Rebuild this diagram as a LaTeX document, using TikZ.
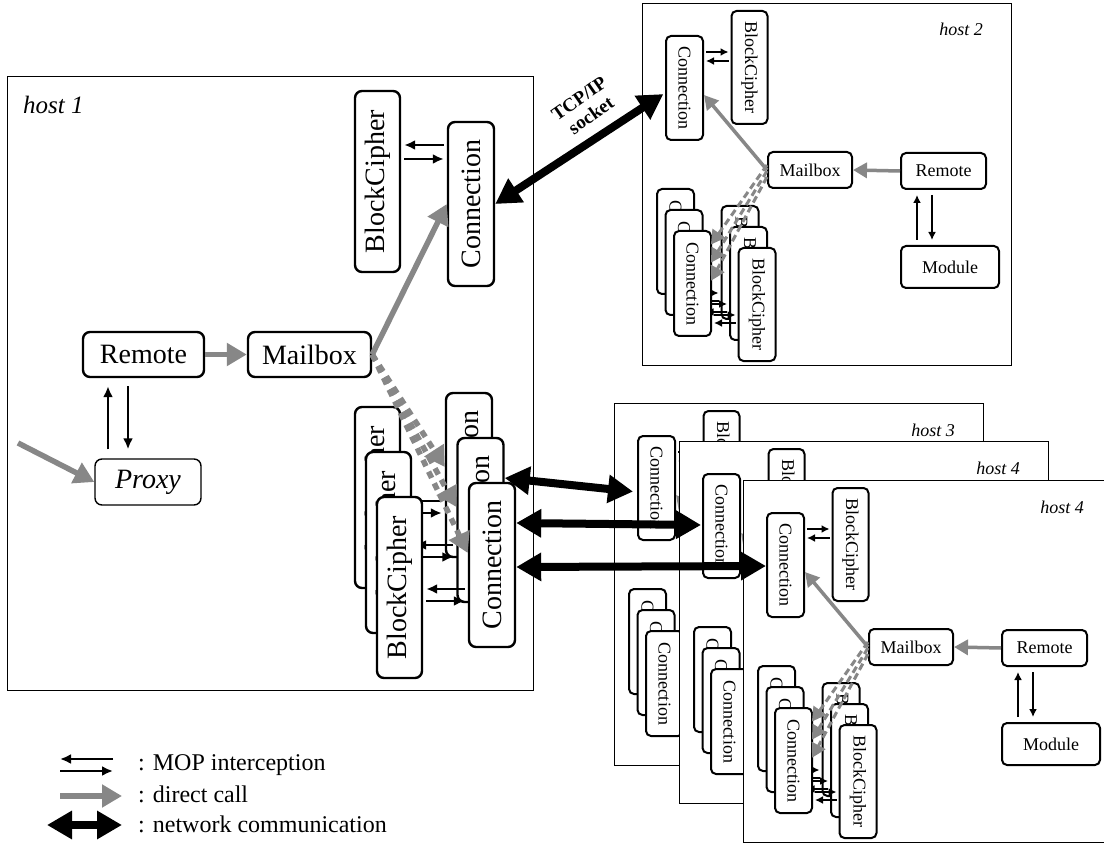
\documentclass[tikz,border=0pt]{standalone}
\usepackage{fontspec}
\setmainfont{Liberation Serif}
\usetikzlibrary{arrows.meta}
\definecolor{callgray}{gray}{0.53}

\tikzset{
  hostbox/.style={draw=black, line width=1.2pt, fill=white, inner sep=0pt},
  hostlabel/.style={font=\itshape\fontsize{18}{20}\selectfont, inner sep=0pt},
  bigbox/.style={draw, line width=2.4pt, rounded corners=7pt, fill=white, inner sep=0pt,
    font=\fontsize{28}{30}\selectfont},
  smallbox/.style={draw, line width=2pt, rounded corners=5pt, fill=white, inner sep=0pt,
    font=\fontsize{18}{20}\selectfont},
  mop/.style={line width=2.2pt, -{Latex[length=11pt,width=10pt]}, shorten <=3pt, shorten >=3pt},
  smallmop/.style={line width=1.8pt, -{Latex[length=8pt,width=8pt]}, shorten <=2pt, shorten >=2pt},
  call/.style={color=callgray, line width=5.5pt, -{Triangle[length=20pt,width=22pt]}},
  smallcall/.style={color=callgray, line width=3.5pt, -{Triangle[length=14pt,width=15pt]}},
  dashcall/.style={call, dash pattern=on 7pt off 6pt},
  smalldash/.style={smallcall, line width=3pt, dash pattern=on 7pt off 4pt},
  net/.style={line width=8pt, {Triangle[length=25pt,width=27pt]}-{Triangle[length=25pt,width=27pt]}},
  legendtext/.style={font=\fontsize{24}{26}\selectfont, inner sep=0pt},
}

% one remote host: #1 name prefix, #2/#3 top-left corner, #4 label
\newcommand\drawhost[4]{%
\begin{scope}[shift={(#2,#3)}]
  \node[hostbox, minimum width=369pt, minimum height=362pt, anchor=north west] (#1) at (0,0) {};
  \node[hostlabel, anchor=base east] (#1-lbl) at (341,33) {#4};
  \node[smallbox, minimum width=37pt, minimum height=104pt] (#1-conn) at (42.5,85) {\rotatebox{-90}{Connection}};
  \node[smallbox, minimum width=36pt, minimum height=113pt] (#1-bc) at (107.5,64.5) {\rotatebox{-90}{BlockCipher}};
  \draw[smallmop] (#1-conn.east |- 0,49) -- (#1-bc.west |- 0,49);
  \draw[smallmop] (#1-bc.west |- 0,58) -- (#1-conn.east |- 0,58);
  \node[smallbox, minimum width=84pt, minimum height=36pt] (#1-mail) at (168,167) {Mailbox};
  \node[smallbox, minimum width=85pt, minimum height=36pt] (#1-rem) at (301.5,168) {Remote};
  \node[smallbox, minimum width=98pt, minimum height=42pt] (#1-mod) at (308,264) {Module};
  \draw[smallmop, shorten <=5pt, shorten >=5pt] (#1-mod.north -| 275,0) -- (#1-rem.south -| 275,0);
  \draw[smallmop, shorten <=5pt, shorten >=5pt] (#1-rem.south -| 290,0) -- (#1-mod.north -| 290,0);
  \foreach \k [evaluate=\k as \ya using 290+11*\k, evaluate=\k as \yb using 298+11*\k] in {0,1,2} {
    \node[smallbox, minimum width=37pt, minimum height=105pt] (#1-c\k) at ({33.5+8.5*\k},{238.5+21*\k}) {\rotatebox{-90}{Connection}};
    \node[smallbox, minimum width=37pt, minimum height=113pt] (#1-b\k) at ({98+8.5*\k},{259.5+21*\k}) {\rotatebox{-90}{BlockCipher}};
    \draw[smallmop] (#1-c\k.east |- 0,\ya) -- (#1-b\k.west |- 0,\ya);
    \draw[smallmop] (#1-b\k.west |- 0,\yb) -- (#1-c\k.east |- 0,\yb);
  }
  \draw[smallcall] (#1-rem.west) -- (#1-mail.east);
  \draw[smallcall] (#1-mail.west) -- (#1-conn.east |- 0,92);
  % the calls into the stacked connections end on the front face of the stack
  \foreach \s/\yy in {162/240,168/258,174/276}
    \draw[smalldash, shorten >=-2pt] (#1-mail.west |- 0,\s) -- (#1-c2.east |- 0,\yy);
\end{scope}}

\begin{document}
\begin{tikzpicture}[x=1pt, y=-1pt]
\useasboundingbox (0,0) rectangle (1104,845);
\clip (0,0) rectangle (1104,845);

% ---------------- host 1 ----------------
\node[hostbox, minimum width=526pt, minimum height=614pt, anchor=north west] (h1) at (7,76) {};
\node[font=\itshape\fontsize{25}{27}\selectfont, inner sep=0pt, anchor=base west] (h1-lbl) at (23,114) {host 1};

\node[bigbox, minimum width=45pt, minimum height=181pt] (h1-bc) at (377.5,181.5) {\rotatebox{90}{BlockCipher}};
\node[bigbox, minimum width=46pt, minimum height=164pt] (h1-conn) at (471,204) {\rotatebox{90}{Connection}};
\draw[mop] (h1-conn.west |- 0,145) -- (h1-bc.east |- 0,145);
\draw[mop] (h1-bc.east |- 0,159) -- (h1-conn.west |- 0,159);

\node[bigbox, minimum width=121pt, minimum height=45pt] (h1-rem) at (143.5,354.5) {Remote};
\node[bigbox, minimum width=123pt, minimum height=45pt] (h1-mail) at (309.5,354.5) {Mailbox};
\node[bigbox, line width=1.4pt, font=\itshape\fontsize{28}{30}\selectfont,
      minimum width=106pt, minimum height=46pt] (h1-proxy) at (148,482) {Proxy};
\draw[mop, shorten <=9pt, shorten >=8pt] (h1-proxy.north -| 108,0) -- (h1-rem.south -| 108,0);
\draw[mop, shorten <=8pt, shorten >=9pt] (h1-rem.south -| 128,0) -- (h1-proxy.north -| 128,0);

% stacked BlockCipher / Connection pairs
\foreach \k [evaluate=\k as \ya using 501+44*\k, evaluate=\k as \yb using 513+44*\k] in {0,1,2} {
  \node[bigbox, minimum width=45pt, minimum height=181pt] (h1-b\k) at ({377.5+11*\k},{497.5+45*\k}) {\rotatebox{90}{BlockCipher}};
  \node[bigbox, minimum width=46pt, minimum height=164pt] (h1-c\k) at ({469+11.5*\k},{475+45*\k}) {\rotatebox{90}{Connection}};
  \draw[mop] (h1-c\k.west |- 0,\ya) -- (h1-b\k.east |- 0,\ya);
  \draw[mop] (h1-b\k.east |- 0,\yb) -- (h1-c\k.west |- 0,\yb);
}

\coordinate (h1-ext) at (18,443);
\draw[call] (h1-ext) -- (h1-proxy.west);
\draw[call] (h1-rem.east) -- (h1-mail.west);
\draw[call] (h1-mail.east) -- (h1-conn.west);
\foreach \k/\yy in {0/467,1/507,2/553}
  \draw[dashcall] (h1-mail.east) -- (h1-c\k.west |- 0,\yy);

% ---------------- remote hosts ----------------
\drawhost{h2}{642}{3}{host 2}
\drawhost{h3}{614}{403}{host 3}
\drawhost{h4m}{679}{441}{host 4}
\drawhost{h4f}{743}{480}{host 4}

% ---------------- network links ----------------
\draw[net, shorten >=2pt] (h1-conn.east) -- (h2-conn.west |- 0,93);
\node[font=\bfseries\fontsize{19}{21}\selectfont, rotate=35, align=center, inner sep=0pt] (tcp) at (585,107) {TCP/IP\\socket};
\draw[net, shorten >=4pt] (h1-c1.east |- 0,478) -- (h3-conn.west |- 0,492);
\draw[net, shorten >=1pt] (h1-c2.east |- 0,523) -- (h4m-conn.west |- 0,525);
\draw[net] (h1-c2.east |- 0,567) -- (h4f-conn.west |- 0,566);

% ---------------- legend ----------------
\coordinate (lg-a1) at (60,759);  \coordinate (lg-b1) at (113,759);
\coordinate (lg-a2) at (60,771);  \coordinate (lg-b2) at (113,771);
\coordinate (lg-a3) at (60,796);  \coordinate (lg-b3) at (122,796);
\coordinate (lg-a4) at (47,825);  \coordinate (lg-b4) at (122,825);
\draw[mop, line width=2.6pt, shorten <=0pt, shorten >=0pt] (lg-b1) -- (lg-a1);
\draw[mop, line width=2.6pt, shorten <=0pt, shorten >=0pt] (lg-a2) -- (lg-b2);
\draw[call] (lg-a3) -- (lg-b3);
\draw[net] (lg-a4) -- (lg-b4);
\node[legendtext, anchor=base west] (lg-t1) at (138,770) {: MOP interception};
\node[legendtext, anchor=base west] (lg-t2) at (138,802) {: direct call};
\node[legendtext, anchor=base west] (lg-t3) at (138,832) {: network communication};
\end{tikzpicture}
\end{document}
